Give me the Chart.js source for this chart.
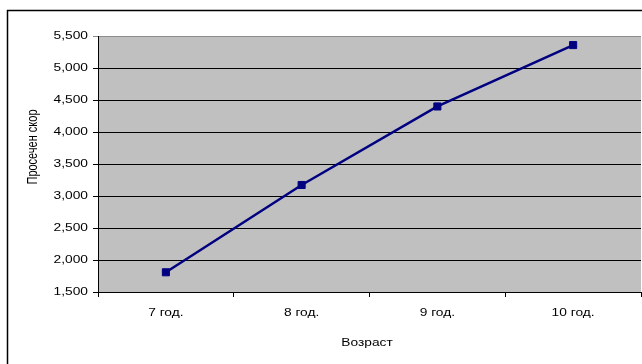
<!DOCTYPE html>
<html>
<head>
<meta charset="utf-8">
<script src="https://cdn.jsdelivr.net/npm/chart.js@4/dist/chart.umd.min.js"></script>
<style>
  html, body { margin: 0; padding: 0; background: #ffffff; overflow: hidden; }
  canvas { display: block; }
</style>
</head>
<body>
<canvas id="chart" width="642" height="364"></canvas>
<script>
// Average score by age
const ageLabels = ['7 год.', '8 год.', '9 год.', '10 год.'];
const avgScore = [1808, 3172, 4399, 5358];
const yMin = 1500;
const yMax = 5500;
const yStep = 500;
const xTitle = 'Возраст';
const yTitle = 'Просечен скор';

const FONT = '11px "Liberation Sans", Arial, sans-serif';
const STRETCH = 1.25; // labels are drawn horizontally widened

function wideText(ctx, text, x, y, align, rotate) {
  ctx.save();
  ctx.translate(x, y);
  ctx.scale(STRETCH, 1);
  if (rotate) ctx.rotate(-Math.PI / 2);
  ctx.font = FONT;
  ctx.fillStyle = '#000000';
  ctx.textAlign = align;
  ctx.textBaseline = 'middle';
  ctx.fillText(text, 0, 0);
  ctx.restore();
}

const chartFrame = {
  id: 'chartFrame',
  beforeDraw(chart) {
    const { ctx, chartArea: a } = chart;
    ctx.save();
    ctx.fillStyle = '#ffffff';
    ctx.fillRect(0, 0, chart.width, chart.height);
    ctx.fillStyle = '#c0c0c0';
    ctx.fillRect(a.left, a.top, a.right - a.left, a.bottom - a.top);
    ctx.strokeStyle = '#000000';
    ctx.lineWidth = 1.5;
    ctx.beginPath();
    ctx.moveTo(7.5, chart.height);
    ctx.lineTo(7.5, 10.5);
    ctx.lineTo(chart.width, 10.5);
    ctx.stroke();
    ctx.restore();
  },
  afterDraw(chart) {
    const { ctx } = chart;
    const xs = chart.scales.x;
    const ys = chart.scales.y;
    ys.ticks.forEach((t, i) => {
      wideText(ctx, t.label, ys.right - 10, ys.getPixelForTick(i), 'right', false);
    });
    xs.ticks.forEach((t, i) => {
      wideText(ctx, xs.getLabelForValue(t.value), xs.getPixelForTick(i), xs.top + 21, 'center', false);
    });
    wideText(ctx, xTitle, 367, 343, 'center', false);
    wideText(ctx, yTitle, 33, 147, 'center', true);
  }
};

new Chart(document.getElementById('chart'), {
  type: 'line',
  data: {
    labels: ageLabels,
    datasets: [{
      label: yTitle,
      data: avgScore,
      borderColor: '#000080',
      borderWidth: 2.5,
      tension: 0,
      pointStyle: 'rect',
      pointRadius: 5,
      pointBackgroundColor: '#000080',
      pointBorderColor: '#000080',
      pointBorderWidth: 1,
      clip: false
    }]
  },
  options: {
    responsive: false,
    animation: false,
    devicePixelRatio: 1,
    layout: { autoPadding: false, padding: { top: 36, right: 1, left: 0, bottom: 0 } },
    plugins: {
      legend: { display: false },
      tooltip: { enabled: false }
    },
    scales: {
      x: {
        type: 'category',
        offset: true,
        grid: {
          offset: true,
          drawOnChartArea: false,
          drawTicks: true,
          tickLength: 5,
          color: '#000000'
        },
        border: { display: true, color: '#000000', width: 1 },
        ticks: { display: false },
        afterFit(scale) { scale.height = 72; }
      },
      y: {
        min: yMin,
        max: yMax,
        grid: {
          drawTicks: true,
          tickLength: 5,
          color: (c) => (c.tick && c.tick.value === yMax ? '#8c8c8c' : '#000000')
        },
        border: { display: true, color: '#000000', width: 1 },
        ticks: {
          display: false,
          stepSize: yStep,
          callback: (v) => v.toLocaleString('en-US')
        },
        afterFit(scale) { scale.width = 98; }
      }
    }
  },
  plugins: [chartFrame]
});
</script>
</body>
</html>
